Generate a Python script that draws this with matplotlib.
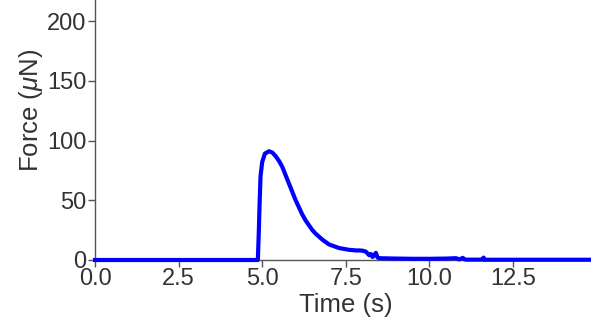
import matplotlib
matplotlib.use("Agg")
import matplotlib.pyplot as plt

plt.rcParams['font.family'] = ['Liberation Sans', 'DejaVu Sans']
plt.rcParams['mathtext.fontset'] = 'custom'
plt.rcParams['mathtext.it'] = 'Liberation Sans:italic'
plt.rcParams['mathtext.rm'] = 'Liberation Sans'

time_s = [0.0, 4.87, 4.90, 4.92, 4.95, 5.00, 5.08, 5.20, 5.30, 5.40, 5.50, 5.60,
          5.70, 5.80, 5.90, 6.00, 6.10, 6.20, 6.30, 6.40, 6.50, 6.60, 6.70,
          6.80, 6.90, 7.00, 7.10, 7.20, 7.30, 7.40, 7.50, 7.60, 7.70, 7.80,
          7.90, 8.00, 8.10, 8.20, 8.25, 8.30, 8.35, 8.40, 8.45, 8.50, 9.00,
          9.50, 10.00, 10.50, 10.80, 10.90, 11.00, 11.05, 11.10, 11.60,
          11.62, 11.65, 15.0]
force_uN = [0.0, 0.0, 25, 45, 70, 82, 89, 91, 90, 87, 83, 78,
            71, 64, 57, 50, 44, 38, 33, 29, 25, 22, 19.5,
            17, 15, 13, 12, 11, 10, 9.5, 9, 8.5, 8.3, 8,
            8, 7.8, 7, 4, 5, 2.5, 4, 6, 2, 1.5, 1.2,
            1.0, 1.0, 1.2, 1.5, 0.5, 1.8, 0.5, 0.3, 0.3,
            2.0, 0.2, 0.2]

xticks = [0.0, 2.5, 5.0, 7.5, 10.0, 12.5]
yticks = [0, 50, 100, 150, 200]

W, H = 591, 323
px_per_s = 33.44
px_per_uN = 1.195
x0, y0 = 95, 260
xmax, ymax = 15.0, 250.0
fig = plt.figure(figsize=(W/100, H/100), dpi=100)
ax = fig.add_axes([x0/W, (H - y0)/H, xmax*px_per_s/W, ymax*px_per_uN/H])
ax.plot(time_s, force_uN, color='#0000ff', lw=3.0, clip_on=False, zorder=3)

ax.set_xlim(0, xmax)
ax.set_ylim(0, ymax)
ax.set_xticks(xticks)
ax.set_xticklabels([f"{t:.1f}" for t in xticks])
ax.set_yticks(yticks)
ax.set_yticklabels([str(v) for v in yticks])

for s in ['top', 'right']:
    ax.spines[s].set_visible(False)
for s in ['left', 'bottom']:
    ax.spines[s].set_color('#555555')
    ax.spines[s].set_linewidth(1.0)

ax.tick_params(axis='both', direction='out', length=5, width=1.0, color='#555555',
               labelsize=17, labelcolor='#333333', pad=1)
ax.set_xlabel('Time (s)', fontsize=18.5, color='#333333', labelpad=2)
ax.set_ylabel(r'Force ($\mu$N)', fontsize=18.5, color='#333333', labelpad=2)

fig.savefig('out.png', dpi=100)
